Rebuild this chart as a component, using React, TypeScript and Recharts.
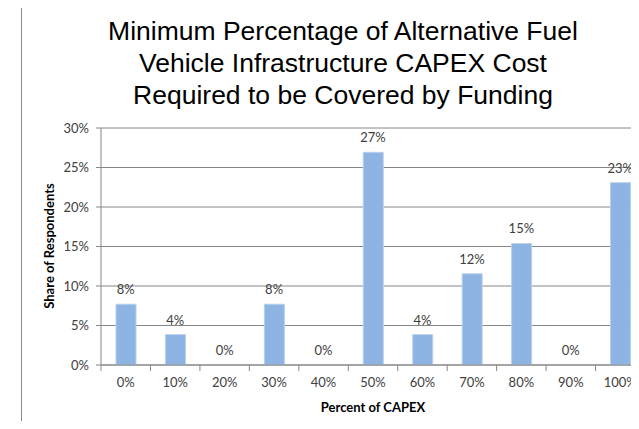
import { ComposedChart, Bar, Line, XAxis, YAxis, CartesianGrid } from 'recharts';

const categories = ['0%', '10%', '20%', '30%', '40%', '50%', '60%', '70%', '80%', '90%', '100%'];
const shares = [7.69, 3.85, 0, 7.69, 0, 26.92, 3.85, 11.54, 15.38, 0, 23.08];
const yTicks = [0, 5, 10, 15, 20, 25, 30];

const data = categories.map((c, i) => ({ cat: c, share: shares[i] }));

const FONT = 'Lato, "Liberation Sans", sans-serif';
const TEXT = '#404040';

// category ticks sit between bars, like the Excel original
function BetweenTick(props: any) {
  const { x, y, payload, half } = props;
  return (
    <g>
      <line x1={x - half} y1={y - 8} x2={x - half} y2={y - 2} stroke="#868686" />
      <text x={x} y={y + 14} textAnchor="middle" fill={TEXT} fontSize={13} fontFamily={FONT}>
        {payload.value}
      </text>
    </g>
  );
}

// value labels above the bars (zero values too)
function ValueLabel(props: any) {
  const { x, y, value } = props;
  return (
    <text x={x} y={y - 10} textAnchor="middle" fill={TEXT} fontSize={13} fontFamily={FONT}>
      {`${Math.round(Number(value))}%`}
    </text>
  );
}

export default function App() {
  const plotLeft = 101;
  const plotRight = 645;
  const half = (plotRight - plotLeft) / categories.length / 2;
  return (
    <div style={{ position: 'relative', width: 639, height: 429, margin: -8, overflow: 'hidden', background: '#fff' }}>
      <div style={{ position: 'absolute', left: 21, top: 5, width: 700, height: 500, border: '1px solid #8a8a8a' }} />
      <div
        style={{
          position: 'absolute', left: 21, top: 15, width: 644, textAlign: 'center',
          fontFamily: '"Liberation Sans", Arial, sans-serif', fontSize: 26.5, lineHeight: '32px', color: '#000',
        }}
      >
        Minimum Percentage of Alternative Fuel<br />
        Vehicle Infrastructure CAPEX Cost<br />
        Required to be Covered by Funding
      </div>
      <div style={{ position: 'absolute', left: 0, top: 0 }}>
        <ComposedChart
          width={680}
          height={429}
          data={data}
          margin={{ top: 128, right: 680 - plotRight, left: 60, bottom: 34 }}
          barSize={20}
        >
          <CartesianGrid vertical={false} stroke="#868686" />
          <XAxis
            dataKey="cat"
            height={30}
            axisLine={{ stroke: '#868686' }}
            tickLine={false}
            interval={0}
            tick={<BetweenTick half={half} />}
          />
          <YAxis
            width={41}
            domain={[0, 30]}
            ticks={yTicks}
            interval={0}
            tickFormatter={(v: number) => `${v}%`}
            axisLine={{ stroke: '#868686' }}
            tickLine={{ stroke: '#868686' }}
            tickSize={5}
            tickMargin={7}
            tick={{ fill: TEXT, fontSize: 13, fontFamily: FONT }}
          />
          <Bar dataKey="share" fill="#8DB4E2" stroke="#b9d0ec" strokeWidth={1} isAnimationActive={false} />
          <Line
            dataKey="share"
            stroke="none"
            dot={false}
            activeDot={false}
            label={<ValueLabel />}
            isAnimationActive={false}
          />
        </ComposedChart>
      </div>
      <div
        style={{
          position: 'absolute', left: 273, top: 399, width: 200, textAlign: 'center',
          fontFamily: FONT, fontWeight: 700, fontSize: 13, color: '#000',
        }}
      >
        Percent of CAPEX
      </div>
      <div
        style={{
          position: 'absolute', left: 49, top: 246, width: 200, textAlign: 'center',
          transform: 'translate(-50%, -50%) rotate(-90deg)',
          fontFamily: FONT, fontWeight: 700, fontSize: 13, color: '#000', whiteSpace: 'nowrap',
        }}
      >
        Share of Respondents
      </div>
    </div>
  );
}
